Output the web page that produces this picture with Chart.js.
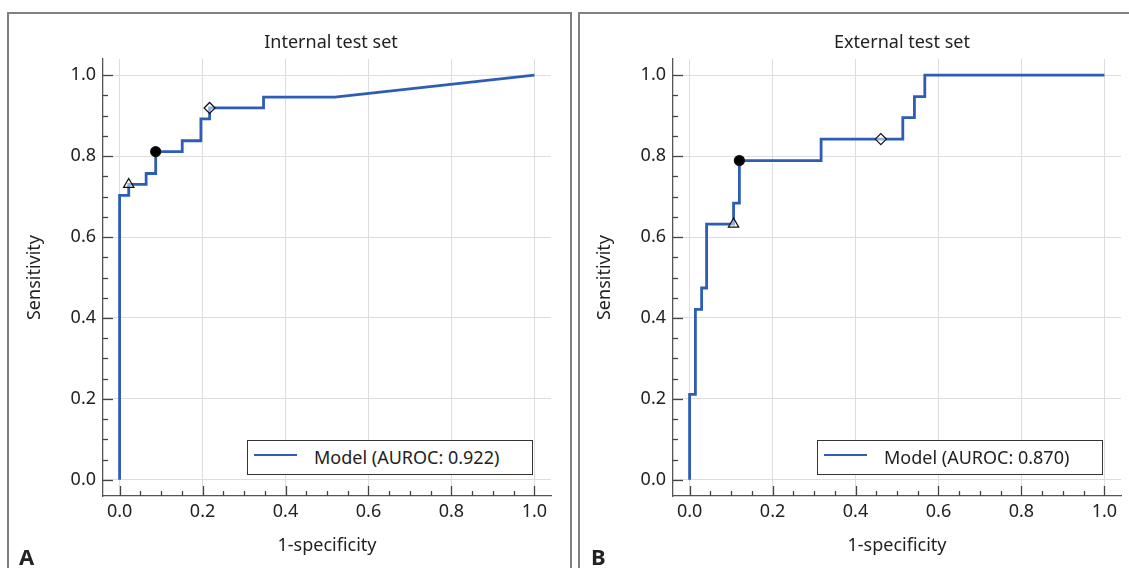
<!DOCTYPE html>
<html>
<head>
<meta charset="utf-8">
<script src="https://cdn.jsdelivr.net/npm/chart.js@4.4.1/dist/chart.umd.min.js"></script>
<style>
    body { margin: 0; background: #fff; width: 1129px; height: 568px; overflow: hidden; position: relative; font-family: 'Noto Sans', sans-serif; color: #222; }
    .panel { position: absolute; top: 12px; height: 600px; border: 2px solid #808080; box-sizing: border-box; }
    #panelA { left: 7px; width: 565px; }
    #panelB { left: 578px; width: 600px; }
    canvas { position: absolute; top: 0; }
    #chartA { left: 0; }
    #chartB { left: 575px; }
    .title { position: absolute; top: 30px; width: 300px; font-size: 18px; line-height: 22px; text-align: center; }
    .legend { position: absolute; top: 440px; width: 286px; height: 35px; border: 1.5px solid #333; background: #fff; box-sizing: border-box; }
    .legend .sample { position: absolute; left: 6px; top: 13px; width: 43px; height: 0; border-top: 2.5px solid #2d5db5; }
    .legend .text { position: absolute; left: 66px; top: 4px; font-size: 18px; line-height: 24px; white-space: nowrap; }
    .tag { position: absolute; top: 543px; font-size: 22px; font-weight: bold; line-height: 26px; }
</style>
</head>
<body>
<div class="panel" id="panelA"></div>
<div class="panel" id="panelB"></div>
<canvas id="chartA" width="575" height="568"></canvas>
<canvas id="chartB" width="554" height="568"></canvas>
<div class="title" style="left:181px">Internal test set</div>
<div class="title" style="left:752px">External test set</div>
<div class="legend" style="left:247px"><div class="sample"></div><div class="text" id="legendA"></div></div>
<div class="legend" style="left:817px"><div class="sample"></div><div class="text" id="legendB"></div></div>
<div class="tag" style="left:19px">A</div>
<div class="tag" style="left:591px">B</div>
<script>
// ROC curve vertices (1-specificity, sensitivity)
const internalFpr = [0, 0, 0.022, 0.022, 0.064, 0.064, 0.087, 0.087, 0.151, 0.151, 0.196, 0.196, 0.217, 0.217, 0.347, 0.347, 0.519, 1.0];
const internalTpr = [0, 0.703, 0.703, 0.730, 0.730, 0.757, 0.757, 0.811, 0.811, 0.838, 0.838, 0.892, 0.892, 0.919, 0.919, 0.946, 0.946, 1.0];

const externalFpr = [0, 0, 0.014, 0.014, 0.029, 0.029, 0.041, 0.041, 0.106, 0.106, 0.120, 0.120, 0.317, 0.317, 0.514, 0.514, 0.542, 0.542, 0.567, 0.567, 1.0];
const externalTpr = [0, 0.211, 0.211, 0.421, 0.421, 0.474, 0.474, 0.632, 0.632, 0.684, 0.684, 0.789, 0.789, 0.842, 0.842, 0.895, 0.895, 0.947, 0.947, 1.0, 1.0];

// operating points: triangle, circle, diamond
const internalMarkers = [[0.022, 0.730], [0.087, 0.811], [0.217, 0.919]];
const externalMarkers = [[0.106, 0.632], [0.120, 0.789], [0.461, 0.842]];

const majorTicks = [0, 0.2, 0.4, 0.6, 0.8, 1.0];
const minorTicks = [0, 0.05, 0.1, 0.15, 0.2, 0.25, 0.3, 0.35, 0.4, 0.45, 0.5, 0.55, 0.6, 0.65, 0.7, 0.75, 0.8, 0.85, 0.9, 0.95, 1.0];

const legendLabels = ['Model (AUROC: 0.922)', 'Model (AUROC: 0.870)'];

const FONT = "'Noto Sans', sans-serif";
const lineColor = '#2d5db5';

document.getElementById('legendA').textContent = legendLabels[0];
document.getElementById('legendB').textContent = legendLabels[1];

// small inward tick marks on both axes
const innerTicks = {
    id: 'innerTicks',
    afterDatasetsDraw(chart) {
        const ctx = chart.ctx;
        const area = chart.chartArea;
        const xs = chart.scales.x;
        const ys = chart.scales.y;
        ctx.save();
        ctx.strokeStyle = '#444';
        ctx.lineWidth = 1.3;
        minorTicks.forEach(v => {
            const len = majorTicks.includes(v) ? 10 : 5;
            const px = Math.round(xs.getPixelForValue(v)) + 0.5;
            ctx.beginPath();
            ctx.moveTo(px, area.bottom);
            ctx.lineTo(px, area.bottom - len);
            ctx.stroke();
            const py = Math.round(ys.getPixelForValue(v)) + 0.5;
            ctx.beginPath();
            ctx.moveTo(area.left, py);
            ctx.lineTo(area.left + len, py);
            ctx.stroke();
        });
        ctx.restore();
    }
};

function makeChart(canvasId, fpr, tpr, markers, yWidth, titleOffset, rightPad) {
    const ctx = document.getElementById(canvasId).getContext('2d');
    const pts = fpr.map((x, i) => ({ x: x, y: tpr[i] }));
    const styles = ['triangle', 'circle', 'rectRot'];
    const markerSets = markers.map((m, i) => ({
        type: 'scatter',
        data: [{ x: m[0], y: m[1] }],
        pointStyle: styles[i],
        pointRadius: i === 0 ? 6 : (i === 1 ? 5 : 5.5),
        pointBackgroundColor: i === 1 ? '#000' : 'rgba(255,255,255,0.5)',
        pointBorderColor: '#111',
        pointBorderWidth: 1.2,
        order: 0
    }));

    return new Chart(ctx, {
        type: 'line',
        data: {
            datasets: [{
                data: pts,
                borderColor: lineColor,
                borderWidth: 2.8,
                pointRadius: 0,
                fill: false,
                tension: 0,
                order: 1
            }, ...markerSets]
        },
        options: {
            responsive: false,
            animation: false,
            layout: { padding: { top: 59, left: 0, right: rightPad, bottom: 0 } },
            plugins: {
                legend: { display: false },
                tooltip: { enabled: false }
            },
            scales: {
                x: {
                    type: 'linear',
                    min: -0.04,
                    max: 1.04,
                    afterBuildTicks: s => { s.ticks = majorTicks.map(v => ({ value: v })); },
                    afterFit: s => { s.height = 72; },
                    grid: { color: '#dedede', drawTicks: false },
                    border: { color: '#555', width: 1.3 },
                    ticks: { padding: 5, color: '#222', font: { size: 18, family: FONT }, callback: v => v.toFixed(1) },
                    title: { display: true, text: '1-specificity', color: '#222', font: { size: 18, family: FONT }, padding: { top: 0, bottom: 11 } }
                },
                y: {
                    type: 'linear',
                    min: -0.04,
                    max: 1.04,
                    afterBuildTicks: s => { s.ticks = majorTicks.map(v => ({ value: v })); },
                    afterFit: s => { s.width = yWidth; },
                    grid: { color: '#dedede', drawTicks: false },
                    border: { color: '#555', width: 1.3 },
                    ticks: { padding: 7, color: '#222', font: { size: 18, family: FONT }, callback: v => v.toFixed(1) },
                    title: { display: true, text: 'Sensitivity', color: '#222', font: { size: 18, family: FONT }, padding: { top: titleOffset - 1, bottom: 0 } }
                }
            }
        },
        plugins: [innerTicks]
    });
}

makeChart('chartA', internalFpr, internalTpr, internalMarkers, 103, 25, 24);
makeChart('chartB', externalFpr, externalTpr, externalMarkers, 98, 20, 8);
</script>
</body>
</html>
